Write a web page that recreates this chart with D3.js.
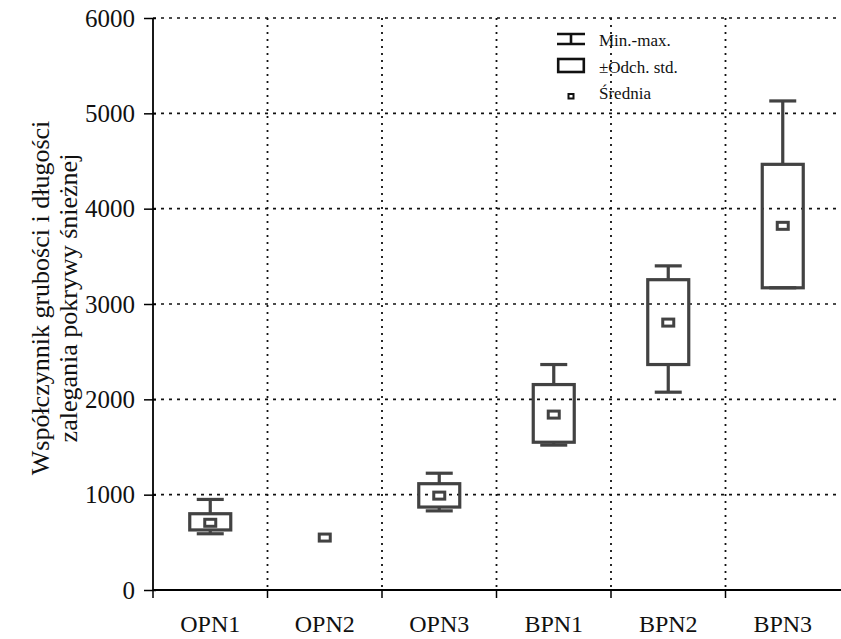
<!DOCTYPE html>
<html>
<head>
<meta charset="utf-8">
<script src="https://cdn.jsdelivr.net/npm/d3@7"></script>
<style>
  body { margin: 0; background: #fff; }
  svg text { font-family: "Liberation Serif", "DejaVu Serif", serif; }
</style>
</head>
<body>
<div id="vis" style="width:841px;height:639px;"></div>
<script>
// categories and values
var categories = ['OPN1', 'OPN2', 'OPN3', 'BPN1', 'BPN2', 'BPN3'];
var minValues  = [590, null, 830, 1520, 2075, 3170];
var sdLow      = [630, null, 870, 1550, 2365, 3170];
var meanValues = [705, 550, 990, 1840, 2805, 3820];
var sdHigh     = [800, null, 1115, 2155, 3255, 4465];
var maxValues  = [950, null, 1225, 2365, 3400, 5130];
var yTicks = [0, 1000, 2000, 3000, 4000, 5000, 6000];

var serif = '"Liberation Serif", "DejaVu Serif", serif';
var width = 841, height = 639;
var margin = { top: 18, right: 1, bottom: 49, left: 153 };
var w = width - margin.left - margin.right;
var h = height - margin.top - margin.bottom;

var svg = d3.select('#vis')
    .append('svg')
    .attr('width', width)
    .attr('height', height);

var g = svg.append('g')
    .attr('transform', 'translate(' + margin.left + ',' + margin.top + ')');

var x_scale = d3.scaleBand()
    .domain(categories)
    .range([0, w])
    .padding(0);

var y_scale = d3.scaleLinear()
    .domain([0, 6000])
    .range([h, 0]);

var data = categories.map(function(c, i) {
    return { cat: c, min: minValues[i], lo: sdLow[i], mean: meanValues[i], hi: sdHigh[i], max: maxValues[i] };
});

// grid
g.selectAll('.hgrid')
    .data(yTicks.filter(function(d) { return d > 0; }))
    .enter()
    .append('line')
    .attr('x1', 0)
    .attr('x2', w)
    .attr('y1', function(d) { return y_scale(d); })
    .attr('y2', function(d) { return y_scale(d); })
    .attr('stroke', '#111')
    .attr('stroke-width', 1.7)
    .attr('stroke-dasharray', '3,5');

g.selectAll('.vgrid')
    .data(categories.slice(1))
    .enter()
    .append('line')
    .attr('x1', function(d) { return x_scale(d); })
    .attr('x2', function(d) { return x_scale(d); })
    .attr('y1', 0)
    .attr('y2', h)
    .attr('stroke', '#111')
    .attr('stroke-width', 1.8)
    .attr('stroke-dasharray', '2,5');

// axes
var y_axis = d3.axisLeft(y_scale).tickValues(yTicks).tickSize(6).tickPadding(12).tickFormat(d3.format('d'));
var gy = g.append('g').attr('class', 'y axis').call(y_axis);
gy.attr('font-family', serif);
gy.select('.domain').attr('stroke-width', 1.8).attr('d', 'M0,' + h + 'V0');
gy.selectAll('.tick line').attr('stroke-width', 1.5).attr('x2', -9).attr('x1', 3);
gy.selectAll('.tick text').attr('font-size', 25).style('font-family', serif).attr('fill', '#111');

var x_axis = d3.axisBottom(x_scale).tickSize(0).tickPadding(25);
var gx = g.append('g').attr('class', 'x axis')
    .attr('transform', 'translate(0,' + h + ')')
    .call(x_axis);
gx.attr('font-family', serif);
gx.select('.domain').attr('stroke-width', 1.8).attr('d', 'M0,0H' + (w + 1));
gx.selectAll('.tick text').attr('font-size', 24).style('font-family', serif).attr('fill', '#111');

// ticks at band boundaries
gx.selectAll('.btick')
    .data(categories)
    .enter()
    .append('line')
    .attr('x1', function(d) { return x_scale(d); })
    .attr('x2', function(d) { return x_scale(d); })
    .attr('y1', 0)
    .attr('y2', 8)
    .attr('stroke', '#000')
    .attr('stroke-width', 1.5);

// boxes
var boxW = 41, capW = 27, col = '#424242', sw = 3.2;
var boxes = g.selectAll('.box')
    .data(data.filter(function(d) { return d.lo != null; }))
    .enter()
    .append('g')
    .attr('class', 'box')
    .attr('transform', function(d) { return 'translate(' + (x_scale(d.cat) + x_scale.bandwidth() / 2) + ',0)'; });

boxes.append('line')
    .attr('x1', 0).attr('x2', 0)
    .attr('y1', function(d) { return y_scale(d.max); })
    .attr('y2', function(d) { return y_scale(d.hi); })
    .attr('stroke', col).attr('stroke-width', sw);

boxes.append('line')
    .attr('x1', 0).attr('x2', 0)
    .attr('y1', function(d) { return y_scale(d.lo); })
    .attr('y2', function(d) { return y_scale(d.min); })
    .attr('stroke', col).attr('stroke-width', sw);

boxes.selectAll('.cap')
    .data(function(d) { return [d.max, d.min]; })
    .enter()
    .append('line')
    .attr('x1', -capW / 2).attr('x2', capW / 2)
    .attr('y1', function(v) { return y_scale(v); })
    .attr('y2', function(v) { return y_scale(v); })
    .attr('stroke', col).attr('stroke-width', sw);

boxes.append('rect')
    .attr('x', -boxW / 2)
    .attr('width', boxW)
    .attr('y', function(d) { return y_scale(d.hi); })
    .attr('height', function(d) { return y_scale(d.lo) - y_scale(d.hi); })
    .attr('fill', 'none')
    .attr('stroke', col).attr('stroke-width', sw);

// means
g.selectAll('.mean')
    .data(data)
    .enter()
    .append('rect')
    .attr('class', 'mean')
    .attr('x', function(d) { return x_scale(d.cat) + x_scale.bandwidth() / 2 - 5.5; })
    .attr('y', function(d) { return y_scale(d.mean) - 3.5; })
    .attr('width', 11)
    .attr('height', 7)
    .attr('fill', '#fff')
    .attr('stroke', col)
    .attr('stroke-width', 3);

// legend
var lg = svg.append('g').attr('transform', 'translate(557,0)');
lg.append('path').attr('d', 'M0,34H28M0,44H28M14,34V44').attr('stroke', '#111').attr('stroke-width', 2.6).attr('fill', 'none');
lg.append('rect').attr('x', 1.2).attr('y', 59).attr('width', 25.6).attr('height', 13).attr('fill', 'none').attr('stroke', '#111').attr('stroke-width', 2.6);
lg.append('rect').attr('x', 11.5).attr('y', 94).attr('width', 5).attr('height', 4.5).attr('fill', '#fff').attr('stroke', '#111').attr('stroke-width', 2);
var legendLabels = ['Min.-max.', '\u00B1Odch. std.', '\u015Arednia'];
lg.selectAll('.ltext')
    .data(legendLabels)
    .enter()
    .append('text')
    .attr('x', 42)
    .attr('y', function(d, i) { return 46 + i * 26.5; })
    .attr('font-size', 17)
    .attr('fill', '#111')
    .text(function(d) { return d; });

// y axis title
var yt = svg.append('text')
    .attr('transform', 'translate(0,298) rotate(-90)')
    .attr('text-anchor', 'middle')
    .attr('font-size', 26)
    .attr('fill', '#111');
yt.append('tspan').attr('x', 0).attr('y', 49).text('Współczynnik grubości i długości');
yt.append('tspan').attr('x', 0).attr('y', 77).text('zalegania pokrywy śnieżnej');
</script>
</body>
</html>
